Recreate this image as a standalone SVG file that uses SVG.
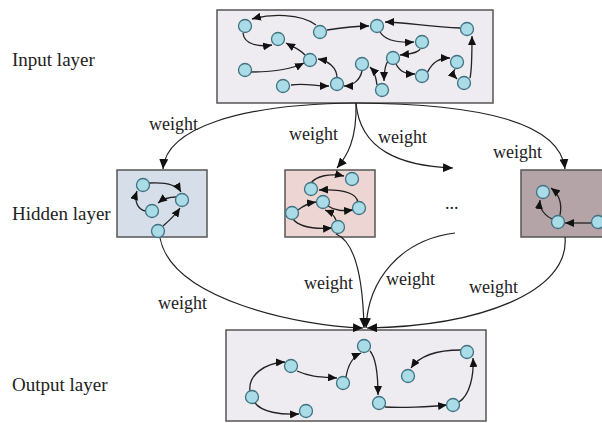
<svg xmlns="http://www.w3.org/2000/svg" width="602" height="423" viewBox="0 0 602 423">
<style>
.lbl{font-family:"Liberation Serif","Times New Roman",serif;font-size:19px;fill:#222}
.w{font-family:"Liberation Serif","Times New Roman",serif;font-size:18px;fill:#222}
.box{stroke:#555;stroke-width:1.5}
.n{fill:#a9dce6;stroke:#3f7282;stroke-width:1.3}
.a{fill:none;stroke:#222;stroke-width:1.3;marker-end:url(#ah)}
.c{fill:none;stroke:#222;stroke-width:1.2;marker-end:url(#ahb)}
</style>
<defs>
<marker id="ah" markerUnits="userSpaceOnUse" markerWidth="9" markerHeight="8" refX="9" refY="4" orient="auto"><path d="M0,0 L9,4 L0,8 z" fill="#111"/></marker>
<marker id="ahb" markerUnits="userSpaceOnUse" markerWidth="10" markerHeight="9" refX="10" refY="4.5" orient="auto"><path d="M0,0 L10,4.5 L0,9 z" fill="#111"/></marker>
</defs>
<rect width="602" height="423" fill="#fff"/>

<g id="labels">
<text class="lbl" x="12" y="66">Input layer</text>
<text class="lbl" x="12" y="220">Hidden layer</text>
<text class="lbl" x="12" y="391">Output layer</text>
</g>

<g id="input">
<rect class="box" x="217" y="10" width="276" height="93" fill="#eeebf1"/>
<path class="a" d="M316,25 C300,13 270,14 252,19"/>
<path class="a" d="M243,33 C244,45 260,47 272,45"/>
<path class="a" d="M327,30 C340,28 355,26 369,26"/>
<path class="a" d="M460,28 C430,27 405,22 385,22"/>
<path class="a" d="M380,32 C385,40 398,43 414,42"/>
<path class="a" d="M420,49 C418,53 410,54 400,55"/>
<path class="a" d="M305,55 C300,49 293,47 286,43"/>
<path class="a" d="M251,72 C270,72 290,70 304,63"/>
<path class="a" d="M337,78 C337,68 329,61 318,59"/>
<path class="a" d="M291,85 C305,83 315,86 329,86"/>
<path class="a" d="M362,71 C360,80 353,86 344,86"/>
<path class="a" d="M377,85 C376,76 374,71 370,67"/>
<path class="a" d="M389,60 C385,64 384,70 384,81"/>
<path class="a" d="M396,64 C400,72 406,74 415,74"/>
<path class="a" d="M427,73 C433,61 440,58 450,58"/>
<path class="a" d="M455,69 C453,72 453,75 457,79"/>
<path class="a" d="M470,78 C472,70 472,50 472,36"/>
<circle class="n" cx="245" cy="26" r="6.5"/>
<circle class="n" cx="320" cy="32" r="6.5"/>
<circle class="n" cx="377" cy="26" r="6.5"/>
<circle class="n" cx="467" cy="29" r="6.5"/>
<circle class="n" cx="278" cy="39" r="6.5"/>
<circle class="n" cx="422" cy="42" r="6.5"/>
<circle class="n" cx="310" cy="60" r="6.5"/>
<circle class="n" cx="362" cy="64" r="6.5"/>
<circle class="n" cx="393" cy="58" r="6.5"/>
<circle class="n" cx="457" cy="62" r="6.5"/>
<circle class="n" cx="245" cy="70" r="6.5"/>
<circle class="n" cx="422" cy="76" r="6.5"/>
<circle class="n" cx="464" cy="83" r="6.5"/>
<circle class="n" cx="283" cy="86" r="6.5"/>
<circle class="n" cx="337" cy="84" r="6.5"/>
<circle class="n" cx="382" cy="90" r="6.5"/>
</g>

<g id="hidden1">
<rect class="box" x="117" y="170" width="90" height="67" fill="#d5dee9"/>
<path class="a" d="M149,183 C165,182 177,185 181,192"/>
<path class="a" d="M176,197 C170,197 163,199 158,203"/>
<path class="a" d="M146,211 C137,210 134,200 137,191"/>
<path class="a" d="M163,226 C170,220 176,214 180,208"/>
<circle class="n" cx="143" cy="185" r="6.5"/>
<circle class="n" cx="182" cy="200" r="6.5"/>
<circle class="n" cx="152" cy="211" r="6.5"/>
<circle class="n" cx="158" cy="231" r="6.5"/>
</g>

<g id="hidden2">
<rect class="box" x="285" y="170" width="90" height="67" fill="#ecd5d2"/>
<path class="a" d="M311,183 C316,176 330,173 344,176"/>
<path class="a" d="M358,202 C356,192 340,189 319,190"/>
<path class="a" d="M298,210 C303,206 309,203 316,202"/>
<path class="a" d="M328,206 C335,211 343,211 353,210"/>
<path class="a" d="M293,219 C300,228 318,229 332,228"/>
<path class="a" d="M336,220 C334,215 330,212 325,210"/>
<circle class="n" cx="352" cy="179" r="6.5"/>
<circle class="n" cx="311" cy="189" r="6.5"/>
<circle class="n" cx="323" cy="202" r="6.5"/>
<circle class="n" cx="359" cy="208" r="6.5"/>
<circle class="n" cx="292" cy="213" r="6.5"/>
<circle class="n" cx="338" cy="227" r="6.5"/>
</g>

<g id="dots">
<text class="w" x="445" y="209">...</text>
</g>

<g id="hidden3">
<rect class="box" x="521" y="170" width="90" height="67" fill="#b5a4a7"/>
<path class="a" d="M552,219 C544,215 539,208 540,200"/>
<path class="a" d="M560,215 C562,205 560,195 551,188"/>
<path class="a" d="M591,223 L565,223"/>
<circle class="n" cx="543" cy="192" r="6.5"/>
<circle class="n" cx="558" cy="222" r="6.5"/>
<circle class="n" cx="598" cy="222" r="6.5"/>
</g>

<g id="output">
<rect class="box" x="226" y="330" width="260" height="91" fill="#eeebf1"/>
<path class="a" d="M250,391 C248,375 265,363 285,362"/>
<path class="a" d="M255,403 C262,412 280,415 299,414"/>
<path class="a" d="M297,371 C310,377 322,377 337,378"/>
<path class="a" d="M346,377 C348,365 352,357 361,353"/>
<path class="a" d="M370,351 C376,358 378,375 378,395"/>
<path class="a" d="M385,407 C400,408 430,407 447,405"/>
<path class="a" d="M459,402 C470,395 474,375 473,358"/>
<path class="a" d="M461,350 C440,350 420,355 411,368"/>
<circle class="n" cx="252" cy="397" r="6.5"/>
<circle class="n" cx="291" cy="366" r="6.5"/>
<circle class="n" cx="343" cy="383" r="6.5"/>
<circle class="n" cx="364" cy="346" r="6.5"/>
<circle class="n" cx="306" cy="411" r="6.5"/>
<circle class="n" cx="379" cy="403" r="6.5"/>
<circle class="n" cx="408" cy="376" r="6.5"/>
<circle class="n" cx="467" cy="352" r="6.5"/>
<circle class="n" cx="453" cy="405" r="6.5"/>
</g>

<g id="connectors">
<path class="c" d="M356,103 C240,104 166,128 163,169"/>
<path class="c" d="M356,103 C357,140 347,156 337,168"/>
<path class="c" d="M356,103 C360,150 400,166 453,168"/>
<path class="c" d="M356,103 C480,104 560,122 565,169"/>
<path class="c" d="M160,238 C172,300 300,326 363,328"/>
<path class="c" d="M336,234 C356,242 363,282 364,328"/>
<path class="c" d="M455,233 C400,240 368,280 366,328"/>
<path class="c" d="M565,237 C570,292 480,326 367,328"/>
<text class="w" x="149" y="130">weight</text>
<text class="w" x="289" y="140">weight</text>
<text class="w" x="378" y="143">weight</text>
<text class="w" x="493" y="158">weight</text>
<text class="w" x="158" y="309">weight</text>
<text class="w" x="304" y="289">weight</text>
<text class="w" x="386" y="285">weight</text>
<text class="w" x="469" y="293">weight</text>
</g>
</svg>
